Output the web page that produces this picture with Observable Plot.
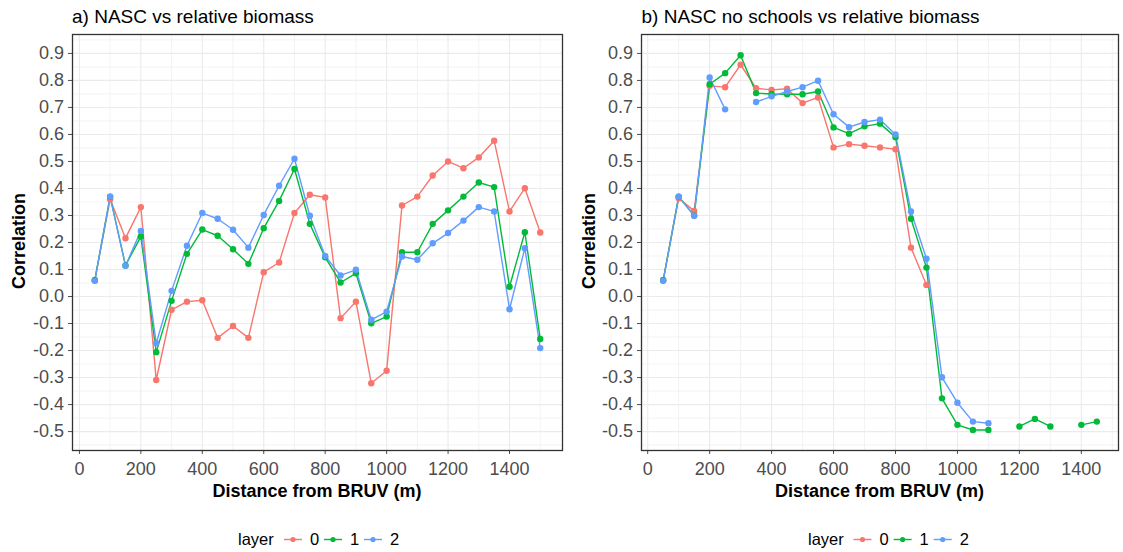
<!DOCTYPE html>
<html><head><meta charset="utf-8">
<script src="https://cdn.jsdelivr.net/npm/d3@7"></script>
<script src="https://cdn.jsdelivr.net/npm/@observablehq/plot@0.6"></script>
<style>
body{margin:0;background:#fff;}
#wrap{position:relative;width:1123px;height:552px;overflow:hidden;background:#fff;font-family:"Liberation Sans",Arial,sans-serif;}
#wrap > svg{position:absolute;top:0;}
</style></head><body><div id="wrap"></div>
<script>
// ---- data ----
const layers = ["0", "1", "2"];
const layerColors = ["#F8766D", "#00BA38", "#619CFF"];

const titleA = "a) NASC vs relative biomass";
const titleB = "b) NASC no schools vs relative biomass";
const xTitle = "Distance from BRUV (m)";
const yTitle = "Correlation";
const legendTitle = "layer";

const distA = [50,100,150,200,250,300,350,400,450,500,550,600,650,700,750,800,850,900,950,1000,1050,1100,1150,1200,1250,1300,1350,1400,1450,1500];
const corrA0 = [0.06,0.36,0.216,0.331,-0.309,-0.049,-0.019,-0.014,-0.153,-0.109,-0.153,0.090,0.126,0.309,0.377,0.367,-0.080,-0.019,-0.321,-0.275,0.337,0.370,0.448,0.500,0.475,0.515,0.577,0.315,0.401,0.237];
const corrA1 = [0.06,0.37,0.115,0.222,-0.206,-0.016,0.158,0.248,0.225,0.175,0.121,0.253,0.354,0.472,0.269,0.145,0.052,0.086,-0.099,-0.074,0.164,0.164,0.269,0.319,0.370,0.422,0.405,0.036,0.238,-0.157];
const corrA2 = [0.058,0.370,0.114,0.243,-0.173,0.021,0.188,0.309,0.288,0.247,0.181,0.302,0.410,0.510,0.299,0.150,0.078,0.099,-0.086,-0.056,0.148,0.136,0.197,0.235,0.281,0.331,0.315,-0.047,0.179,-0.191];

const distB = [50,100,150,200,250,300,350,400,450,500,550,600,650,700,750,800,850,900,950,1000,1050,1100,1150,1200,1250,1300,1350,1400,1450];
const corrB0 = [0.06,0.364,0.317,0.78,0.775,0.858,0.771,0.765,0.769,0.716,0.737,0.552,0.564,0.558,0.552,0.545,0.181,0.043,null,null,null,null,null,null,null,null,null,null,null];
const corrB1 = [0.06,0.37,0.30,0.786,0.827,0.893,0.753,0.750,0.749,0.749,0.759,0.626,0.603,0.630,0.640,0.590,0.288,0.107,-0.377,-0.475,-0.494,-0.494,null,-0.481,-0.453,-0.481,null,-0.475,-0.463];
const corrB2 = [0.058,0.370,0.299,0.811,0.693,null,0.720,0.741,0.759,0.775,0.799,0.675,0.627,0.646,0.655,0.600,0.315,0.140,-0.299,-0.393,-0.463,-0.469,null,null,null,null,null,null,null];

const xTicks = [0,200,400,600,800,1000,1200,1400];
const xMinor = [100,300,500,700,900,1100,1300,1500];
const yTicks = [-0.5,-0.4,-0.3,-0.2,-0.1,0,0.1,0.2,0.3,0.4,0.5,0.6,0.7,0.8,0.9];
const yMinor = [-0.55,-0.45,-0.35,-0.25,-0.15,-0.05,0.05,0.15,0.25,0.35,0.45,0.55,0.65,0.75,0.85,0.95];

// ---- build ----
const FONT = "Liberation Sans, Arial, sans-serif";
function rowsOf(dist, series) {
  const rows = [];
  series.forEach((vals, k) => dist.forEach((d, i) => rows.push({d, v: vals[i], layer: layers[k]})));
  return rows;
}
function panel({rows, xDomain, width, marginLeft, marginRight}) {
  return Plot.plot({
    width, height: 500,
    marginLeft, marginRight, marginTop: 34, marginBottom: 50,
    style: {fontFamily: FONT, background: "transparent", overflow: "visible"},
    x: {domain: xDomain, label: null},
    y: {domain: [-0.57, 0.97], label: null},
    color: {type: "ordinal", domain: layers, range: layerColors},
    marks: [
      Plot.ruleY(yMinor, {stroke: "#EBEBEB", strokeWidth: 0.6}),
      Plot.ruleX(xMinor, {stroke: "#EBEBEB", strokeWidth: 0.6}),
      Plot.gridY(yTicks, {stroke: "#EBEBEB", strokeOpacity: 1, strokeWidth: 1.1}),
      Plot.gridX(xTicks, {stroke: "#EBEBEB", strokeOpacity: 1, strokeWidth: 1.1}),
      Plot.axisY({ticks: yTicks, tickFormat: d => d.toFixed(1), fontSize: 18, tickSize: 4, tickPadding: 4.5, color: "#4D4D4D", label: null}),
      Plot.axisX({ticks: xTicks, tickFormat: d => String(d), fontSize: 18, tickSize: 4, tickPadding: 8, color: "#4D4D4D", label: null}),
      Plot.line(rows, {x: "d", y: "v", z: "layer", stroke: "layer", strokeWidth: 1.4}),
      Plot.dot(rows, {x: "d", y: "v", fill: "layer", r: 3.2}),
      Plot.frame({stroke: "#333333", strokeWidth: 1.3})
    ]
  });
}

const wrap = document.getElementById("wrap");
const pa = panel({rows: rowsOf(distA, [corrA0, corrA1, corrA2]), xDomain: [-22.5, 1572.5], width: 565, marginLeft: 72, marginRight: 3});
pa.style.left = "0px";
wrap.appendChild(pa);
const pb = panel({rows: rowsOf(distB, [corrB0, corrB1, corrB2]), xDomain: [-20, 1520], width: 558, marginLeft: 76, marginRight: 5});
pb.style.left = "565px";
wrap.appendChild(pb);

// ---- text overlay: titles, axis titles, legends ----
const ov = d3.create("svg").attr("width", 1123).attr("height", 552)
  .style("left", "0px").style("pointer-events", "none").style("font-family", FONT);
function texts(title, titleX, yTitleX, xTitleX, legX, keyXs) {
  ov.append("text").attr("x", titleX).attr("y", 23).attr("font-size", 19).attr("fill", "#000").text(title);
  ov.append("text").attr("transform", `translate(${yTitleX},241) rotate(-90)`).attr("text-anchor", "middle")
    .attr("font-size", 18).attr("font-weight", "bold").attr("fill", "#000").text(yTitle);
  ov.append("text").attr("x", xTitleX).attr("y", 497).attr("text-anchor", "middle")
    .attr("font-size", 18).attr("font-weight", "bold").attr("fill", "#000").text(xTitle);
  ov.append("text").attr("x", legX).attr("y", 545).attr("font-size", 16.5).attr("fill", "#000").text(legendTitle);
  layers.forEach((l, k) => {
    const kx = keyXs[k];
    ov.append("line").attr("x1", kx).attr("x2", kx + 18).attr("y1", 539.5).attr("y2", 539.5)
      .attr("stroke", layerColors[k]).attr("stroke-width", 1.4);
    ov.append("circle").attr("cx", kx + 9).attr("cy", 539.5).attr("r", 2.6).attr("fill", layerColors[k]);
    ov.append("text").attr("x", kx + 26).attr("y", 545).attr("font-size", 16.5).attr("fill", "#000").text(l);
  });
}
texts(titleA, 72, 25, 317, 238, [284, 324, 364]);
texts(titleB, 641.5, 595, 879.5, 808, [853.5, 893.6, 933.7]);
wrap.appendChild(ov.node());
</script>
</body></html>
